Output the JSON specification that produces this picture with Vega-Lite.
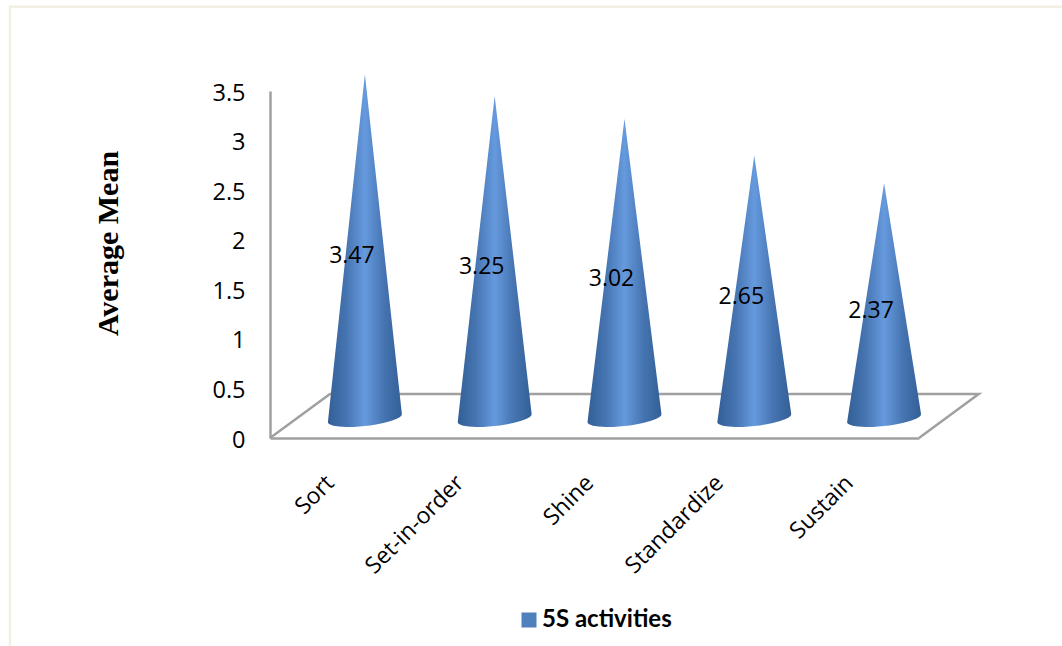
{
  "$schema": "https://vega.github.io/schema/vega-lite/v6.json",
  "width": 649,
  "height": 347,
  "padding": {"left": 270, "top": 91, "right": 143, "bottom": 208},
  "autosize": {"type": "none"},
  "background": "white",
  "view": {"stroke": null},
  "datasets": {
    "activities": [
      {"activity": "Sort", "mean": 3.47},
      {"activity": "Set-in-order", "mean": 3.25},
      {"activity": "Shine", "mean": 3.02},
      {"activity": "Standardize", "mean": 2.65},
      {"activity": "Sustain", "mean": 2.37}
    ],
    "floor": [
      {"step": 1, "u": -0.5, "v": 0},
      {"step": 2, "u": -0.038, "v": 0.444},
      {"step": 3, "u": 4.96, "v": 0.444},
      {"step": 4, "u": 4.5, "v": 0}
    ],
    "frame": [
      {"step": 1, "u": -2.503, "v": -2.1},
      {"step": 2, "u": -2.503, "v": 4.35},
      {"step": 3, "u": 5.6, "v": 4.35}
    ]
  },
  "layer": [
    {
      "data": {"name": "frame"},
      "mark": {"type": "line", "color": "#f3efe3", "strokeWidth": 2.5},
      "encoding": {
        "x": {"field": "u", "type": "quantitative", "scale": {"domain": [-0.5, 4.5], "nice": false, "zero": false},
          "axis": {
            "values": [0, 1, 2, 3, 4],
            "labelExpr": "['Sort','Set-in-order','Shine','Standardize','Sustain'][datum.value]",
            "title": null, "grid": false, "ticks": false,
            "domainColor": "#a0a0a0", "domainWidth": 2.5,
            "labelAngle": -45, "labelAlign": "right", "labelBaseline": "middle",
            "labelFont": "Open Sans", "labelFontSize": 23, "labelColor": "#000000",
            "labelPadding": 41, "labelOffset": -5, "labelOverlap": false, "labelBound": false, "labelFlush": false
          }},
        "y": {"field": "v", "type": "quantitative", "scale": {"domain": [0, 3.5], "nice": false},
          "axis": {
            "values": [0, 0.5, 1, 1.5, 2, 2.5, 3, 3.5], "format": "~g",
            "title": "Average Mean", "grid": false, "ticks": false,
            "domainColor": "#a0a0a0", "domainWidth": 2.5,
            "labelFont": "Open Sans", "labelFontSize": 23.5, "labelColor": "#000000", "labelPadding": 25, "labelOffset": 2,
            "titleFont": "Liberation Serif", "titleFontWeight": "bold", "titleFontSize": 30, "titleColor": "#000000",
            "titleX": -147, "titleY": 152, "titleAlign": "center"
          }},
        "order": {"field": "step", "type": "ordinal"}
      }
    },
    {
      "data": {"name": "floor"},
      "mark": {"type": "line", "color": "#a0a0a0", "strokeWidth": 2.5},
      "encoding": {
        "x": {"field": "u", "type": "quantitative"},
        "y": {"field": "v", "type": "quantitative"},
        "order": {"field": "step", "type": "ordinal"}
      }
    },
    {
      "data": {"name": "activities"},
      "transform": [
        {"window": [{"op": "row_number", "as": "rank"}]},
        {"calculate": "[-1,-0.985,-0.94,-0.85,-0.7,-0.5,-0.3,-0.15,0,0.15,0.3,0.5,0.7,0.85,0.94,0.985,1]", "as": "t"},
        {"flatten": ["t"]},
        {"calculate": "datum.rank - 1 + 0.231 + 0.285 * datum.t", "as": "u"},
        {"calculate": "0.2 + 0.04 * datum.t + datum.mean * (1 - abs(datum.t))", "as": "top"},
        {"calculate": "0.2 + 0.04 * datum.t - 0.08 * sqrt(1 - datum.t * datum.t)", "as": "bottom"}
      ],
      "mark": {
        "type": "area",
        "interpolate": "linear",
        "fill": {
          "gradient": "linear", "x1": 0, "y1": 0, "x2": 1, "y2": 0,
          "stops": [
            {"offset": 0, "color": "#335f96"},
            {"offset": 0.25, "color": "#4675b2"},
            {"offset": 0.5, "color": "#669ade"},
            {"offset": 0.75, "color": "#4675b2"},
            {"offset": 1, "color": "#335f96"}
          ]
        }
      },
      "encoding": {
        "x": {"field": "u", "type": "quantitative"},
        "y": {"field": "top", "type": "quantitative"},
        "y2": {"field": "bottom"},
        "detail": {"field": "activity"}
      }
    },
    {
      "data": {"name": "activities"},
      "transform": [
        {"window": [{"op": "row_number", "as": "rank"}]},
        {"calculate": "datum.rank - 1 + 0.231", "as": "u"},
        {"calculate": "datum.mean / 2 + 0.107", "as": "v"}
      ],
      "mark": {"type": "text", "font": "Open Sans", "fontSize": 23, "color": "#000000", "dx": -13, "dy": 1},
      "encoding": {
        "x": {"field": "u", "type": "quantitative"},
        "y": {"field": "v", "type": "quantitative"},
        "text": {"field": "mean", "type": "quantitative", "format": ".2f"}
      }
    },
    {
      "data": {"name": "activities"},
      "mark": {"type": "point", "filled": true, "size": 0},
      "encoding": {
        "color": {
          "datum": "5S activities",
          "scale": {"range": ["#4f81bd"]},
          "legend": {
            "orient": "none", "legendX": 247, "legendY": 517, "title": null,
            "symbolType": "square", "symbolSize": 225, "symbolOpacity": 1,
            "labelFont": "Lato", "labelFontWeight": "bold", "labelFontSize": 24, "labelColor": "#000000", "labelOffset": 1
          }
        }
      }
    }
  ]
}
